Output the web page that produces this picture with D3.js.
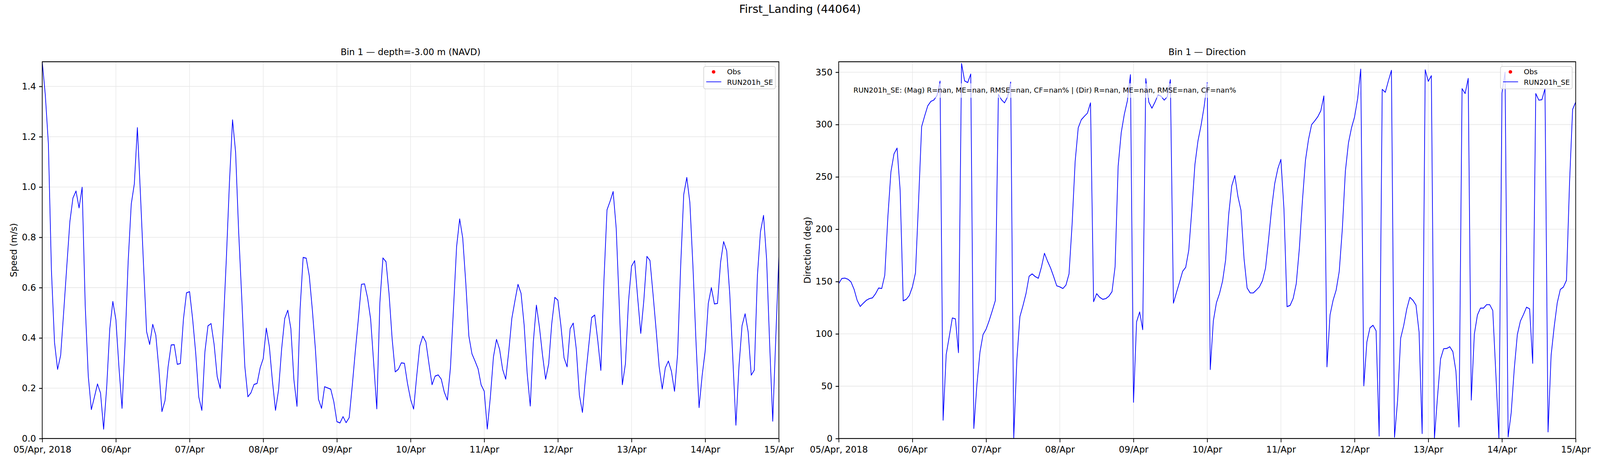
<!DOCTYPE html>
<html lang="en">
<head>
<meta charset="UTF-8">
<title>First_Landing (44064)</title>
<script src="https://d3js.org/d3.v7.min.js"></script>
<style>
  html, body { margin: 0; padding: 0; background: #fff; overflow: hidden; }
  text { font-family: "DejaVu Sans", sans-serif; }
</style>
</head>
<body>
<script>
// hourly model output, 05/Apr 00:00 .. 15/Apr 00:00
var speed = [
  1.498, 1.366, 1.172, 0.666, 0.382, 0.275, 0.331, 0.505, 0.685, 0.862,
  0.956, 0.984, 0.917, 0.999, 0.530, 0.248, 0.115, 0.165, 0.217, 0.180,
  0.037, 0.204, 0.436, 0.545, 0.472, 0.282, 0.120, 0.384, 0.705, 0.932,
  1.012, 1.236, 0.970, 0.690, 0.425, 0.374, 0.454, 0.411, 0.277, 0.107,
  0.151, 0.285, 0.372, 0.373, 0.295, 0.298, 0.474, 0.579, 0.584, 0.475,
  0.340, 0.165, 0.112, 0.345, 0.448, 0.457, 0.374, 0.246, 0.199, 0.450,
  0.720, 1.020, 1.267, 1.138, 0.820, 0.560, 0.287, 0.166, 0.182, 0.215,
  0.219, 0.281, 0.318, 0.439, 0.365, 0.228, 0.112, 0.194, 0.357, 0.477,
  0.510, 0.437, 0.233, 0.128, 0.512, 0.720, 0.717, 0.647, 0.512, 0.355,
  0.156, 0.120, 0.206, 0.201, 0.196, 0.146, 0.067, 0.062, 0.087, 0.063,
  0.083, 0.209, 0.347, 0.476, 0.613, 0.615, 0.559, 0.474, 0.297, 0.118,
  0.540, 0.718, 0.703, 0.574, 0.396, 0.265, 0.275, 0.301, 0.299, 0.219,
  0.156, 0.117, 0.248, 0.368, 0.407, 0.384, 0.297, 0.214, 0.248, 0.253,
  0.236, 0.184, 0.153, 0.282, 0.520, 0.763, 0.873, 0.797, 0.617, 0.407,
  0.337, 0.308, 0.277, 0.213, 0.188, 0.038, 0.165, 0.324, 0.394, 0.355,
  0.275, 0.236, 0.347, 0.478, 0.547, 0.613, 0.577, 0.452, 0.258, 0.129,
  0.384, 0.530, 0.442, 0.331, 0.236, 0.297, 0.457, 0.561, 0.550, 0.447,
  0.321, 0.285, 0.437, 0.459, 0.355, 0.173, 0.104, 0.243, 0.363, 0.481,
  0.491, 0.389, 0.271, 0.627, 0.909, 0.943, 0.982, 0.836, 0.530, 0.214,
  0.297, 0.544, 0.685, 0.707, 0.559, 0.418, 0.549, 0.724, 0.708, 0.574,
  0.433, 0.285, 0.197, 0.281, 0.308, 0.267, 0.188, 0.335, 0.685, 0.970,
  1.038, 0.938, 0.685, 0.384, 0.123, 0.250, 0.350, 0.537, 0.600, 0.535,
  0.537, 0.700, 0.783, 0.746, 0.574, 0.316, 0.053, 0.287, 0.449, 0.496,
  0.423, 0.252, 0.272, 0.647, 0.822, 0.887, 0.713, 0.374, 0.069, 0.404,
  0.724
];

var direction = [
  148.0, 152.9, 153.3, 152.2, 149.6, 142.6, 132.1, 126.2, 129.3, 132.1,
  133.7, 134.4, 138.4, 143.8, 143.3, 156.1, 211.5, 254.8, 271.9, 277.5,
  237.3, 131.6, 133.0, 136.7, 144.9, 158.3, 226.0, 298.0, 308.3, 317.9,
  322.1, 323.5, 327.7, 341.5, 17.5, 80.2, 97.5, 115.2, 114.3, 82.0,
  358.3, 341.7, 340.1, 348.3, 9.6, 51.4, 82.5, 99.3, 104.5, 112.7,
  122.0, 131.8, 328.9, 323.7, 320.7, 326.5, 340.6, 0.0, 74.8, 116.4,
  126.9, 138.6, 155.0, 157.3, 154.7, 153.1, 163.6, 177.0, 169.5, 162.9,
  154.7, 145.9, 144.9, 143.3, 146.6, 157.3, 204.5, 264.8, 296.9, 304.6,
  307.9, 310.9, 320.7, 130.7, 138.4, 134.9, 133.0, 133.7, 136.0, 140.3,
  164.1, 260.2, 292.2, 309.7, 322.6, 347.6, 34.6, 111.5, 120.9, 104.0,
  343.9, 321.4, 315.6, 321.4, 328.4, 327.0, 323.3, 326.6, 342.9, 129.3,
  139.6, 149.4, 159.7, 163.6, 180.0, 218.6, 261.8, 284.5, 299.2, 317.2,
  340.1, 65.9, 112.4, 129.7, 138.4, 150.3, 170.6, 213.9, 241.5, 251.3,
  231.4, 218.1, 171.8, 143.8, 139.1, 139.1, 141.9, 144.9, 150.8, 162.9,
  190.5, 220.4, 243.8, 257.8, 266.7, 219.0, 126.0, 127.2, 133.9, 148.0,
  181.2, 226.7, 265.8, 285.9, 299.9, 303.4, 307.4, 313.2, 327.3, 68.5,
  118.0, 132.1, 141.9, 159.7, 199.9, 255.5, 282.4, 296.9, 307.4, 324.9,
  353.0, 50.3, 92.3, 105.7, 108.2, 102.9, 2.3, 333.6, 330.8, 341.7,
  351.8, 1.2, 36.2, 95.8, 108.0, 123.9, 134.9, 132.1, 127.4, 101.7,
  4.7, 352.3, 341.3, 346.7, 0.0, 39.7, 76.0, 85.8, 86.0, 87.7,
  83.0, 64.3, 11.0, 334.3, 329.6, 344.1, 36.7, 99.8, 118.0, 124.6,
  124.6, 127.9, 127.9, 122.3, 61.9, 0.0, 330.0, 350.0, 1.6, 24.5,
  66.6, 99.3, 112.2, 118.5, 125.5, 123.9, 71.8, 329.6, 323.3, 323.7,
  334.3, 6.3, 79.5, 106.8, 129.7, 142.4, 144.7, 151.2, 244.3, 314.4,
  321.4
];

var dayLabels = ["05/Apr, 2018", "06/Apr", "07/Apr", "08/Apr", "09/Apr", "10/Apr",
                 "11/Apr", "12/Apr", "13/Apr", "14/Apr", "15/Apr"];
var speedTicks = [0, 0.2, 0.4, 0.6, 0.8, 1.0, 1.2, 1.4];
var dirTicks = [0, 50, 100, 150, 200, 250, 300, 350];
var seriesName = "RUN201h_SE", obsName = "Obs";
var statsText = "RUN201h_SE: (Mag) R=nan, ME=nan, RMSE=nan, CF=nan% | (Dir) R=nan, ME=nan, RMSE=nan, CF=nan%";

var W = 5000, H = 1200;
var plotTop = 158, plotBottom = 1122;
var tickLen = 9.7, lw = 2.2, gridColor = "#e6e6e6";

// the drawing is laid out on a 5000x1200 grid and stretched to the real window;
// k keeps text glyphs upright-proportioned when the window's aspect differs
var vw = document.documentElement.clientWidth || window.innerWidth || W;
var vh = document.documentElement.clientHeight || window.innerHeight || H;
var k = (vw / W) / (vh / H);

var svg = d3.select("body").append("svg")
    .attr("viewBox", "0 0 " + W + " " + H)
    .attr("preserveAspectRatio", "none")
    .attr("width", vw).attr("height", vh)
    .style("display", "block").style("background", "#fff");

function upright(sel) {
  sel.each(function() {
    var t = d3.select(this), y = +t.attr("y") || 0;
    t.attr("transform", "translate(0," + y + ") scale(1," + k + ") translate(0," + (-y) + ")");
  });
}

var t0 = new Date(2018, 3, 5);
var times = speed.map(function(d, i) { return d3.timeHour.offset(t0, i); });
var days = d3.timeDay.range(t0, d3.timeDay.offset(t0, 11));

svg.append("text")
    .attr("x", W / 2).attr("y", 33)
    .attr("text-anchor", "middle")
    .style("font-size", "35px")
    .text("First_Landing (44064)")
    .call(upright);

var panels = [
  {left: 132, right: 2434, values: speed, ymax: d3.max(speed), ticks: speedTicks,
   fmt: d3.format(".1f"), title: "Bin 1 \u2014 depth=-3.00 m (NAVD)",
   ylabel: "Speed (m/s)", labelX: 52.5, stats: null},
  {left: 2621, right: 4924, values: direction, ymax: 360, ticks: dirTicks,
   fmt: d3.format("d"), title: "Bin 1 \u2014 Direction",
   ylabel: "Direction (deg)", labelX: 2532.5, stats: statsText}
];

panels.forEach(drawPanel);

function styleAxis(g) {
  g.select(".domain").remove();
  g.attr("font-family", null).attr("font-size", null);
  g.selectAll(".tick line").attr("stroke", "#000").attr("stroke-width", lw);
  g.selectAll(".tick text").attr("fill", "#000").style("font-size", "27.8px").call(upright);
}

function drawPanel(p, idx) {
  var x = d3.scaleTime()
      .domain([t0, d3.timeDay.offset(t0, 10)])
      .range([p.left, p.right]);
  var y = d3.scaleLinear()
      .domain([0, p.ymax])
      .range([plotBottom, plotTop]);
  var g = svg.append("g");

  // grid
  g.append("g").selectAll("line").data(days).join("line")
      .attr("x1", function(d) { return x(d); }).attr("x2", function(d) { return x(d); })
      .attr("y1", plotTop).attr("y2", plotBottom)
      .attr("stroke", gridColor).attr("stroke-width", 1.6);
  g.append("g").selectAll("line").data(p.ticks).join("line")
      .attr("x1", p.left).attr("x2", p.right)
      .attr("y1", function(d) { return y(d); }).attr("y2", function(d) { return y(d); })
      .attr("stroke", gridColor).attr("stroke-width", 1.6);

  var clipId = "clip" + idx;
  svg.append("clipPath").attr("id", clipId).append("rect")
      .attr("x", p.left).attr("y", plotTop)
      .attr("width", p.right - p.left).attr("height", plotBottom - plotTop);

  var line = d3.line()
      .x(function(d, i) { return x(times[i]); })
      .y(function(d) { return y(d); });

  g.append("path").datum(p.values)
      .attr("clip-path", "url(#" + clipId + ")")
      .attr("fill", "none")
      .attr("stroke", "blue")
      .attr("stroke-width", lw)
      .attr("stroke-linejoin", "round")
      .attr("d", line);

  // stats annotation with translucent box
  if (p.stats) {
    var sx = p.left + 0.02 * (p.right - p.left), sy = plotTop + 79.5;
    var sg = g.append("g")
        .attr("transform", "translate(0," + sy + ") scale(1," + k + ") translate(0," + (-sy) + ")");
    var box = sg.append("rect").attr("fill", "#fff").attr("fill-opacity", 0.65);
    var st = sg.append("text")
        .attr("x", sx).attr("y", sy)
        .style("font-size", "22.2px")
        .text(p.stats);
    var len = st.node().getComputedTextLength();
    box.attr("x", sx - 8).attr("y", sy - 29.5)
       .attr("width", len + 16).attr("height", 45);
  }

  // axes
  g.append("g")
      .attr("transform", "translate(0," + plotBottom + ")")
      .call(d3.axisBottom(x).tickValues(days)
          .tickFormat(function(d, i) { return dayLabels[i]; })
          .tickSize(tickLen).tickPadding(tickLen))
      .call(styleAxis);

  g.append("g")
      .attr("transform", "translate(" + p.left + ",0)")
      .call(d3.axisLeft(y).tickValues(p.ticks).tickFormat(p.fmt)
          .tickSize(tickLen).tickPadding(tickLen))
      .call(styleAxis);

  // spines
  g.append("rect")
      .attr("x", p.left).attr("y", plotTop)
      .attr("width", p.right - p.left).attr("height", plotBottom - plotTop)
      .attr("fill", "none").attr("stroke", "#000").attr("stroke-width", lw);

  g.append("text")
      .attr("x", (p.left + p.right) / 2).attr("y", 141)
      .attr("text-anchor", "middle")
      .style("font-size", "27.8px")
      .text(p.title)
      .call(upright);

  g.append("text")
      .attr("transform", "translate(" + p.labelX + "," + ((plotTop + plotBottom) / 2) + ") scale(1," + k + ") rotate(-90)")
      .attr("text-anchor", "middle")
      .style("font-size", "27.8px")
      .text(p.ylabel);

  // legend
  var lx = p.right - 11 - 224, ly = plotTop + 12;
  var lg = g.append("g").attr("transform", "translate(" + lx + "," + ly + ") scale(1," + k + ")");
  lg.append("rect")
      .attr("width", 224).attr("height", 70).attr("rx", 5.5)
      .attr("fill", "#fff").attr("fill-opacity", 0.8)
      .attr("stroke", "#cccccc").attr("stroke-opacity", 0.8).attr("stroke-width", lw);
  lg.append("circle").attr("cx", 31).attr("cy", 17).attr("r", 5.5).attr("fill", "red");
  lg.append("text").attr("x", 73).attr("y", 24).style("font-size", "22.2px").text(obsName);
  lg.append("line").attr("x1", 8).attr("x2", 55).attr("y1", 48).attr("y2", 48)
      .attr("stroke", "blue").attr("stroke-width", lw);
  lg.append("text").attr("x", 73).attr("y", 57).style("font-size", "22.2px").text(seriesName);
}
</script>
</body>
</html>
